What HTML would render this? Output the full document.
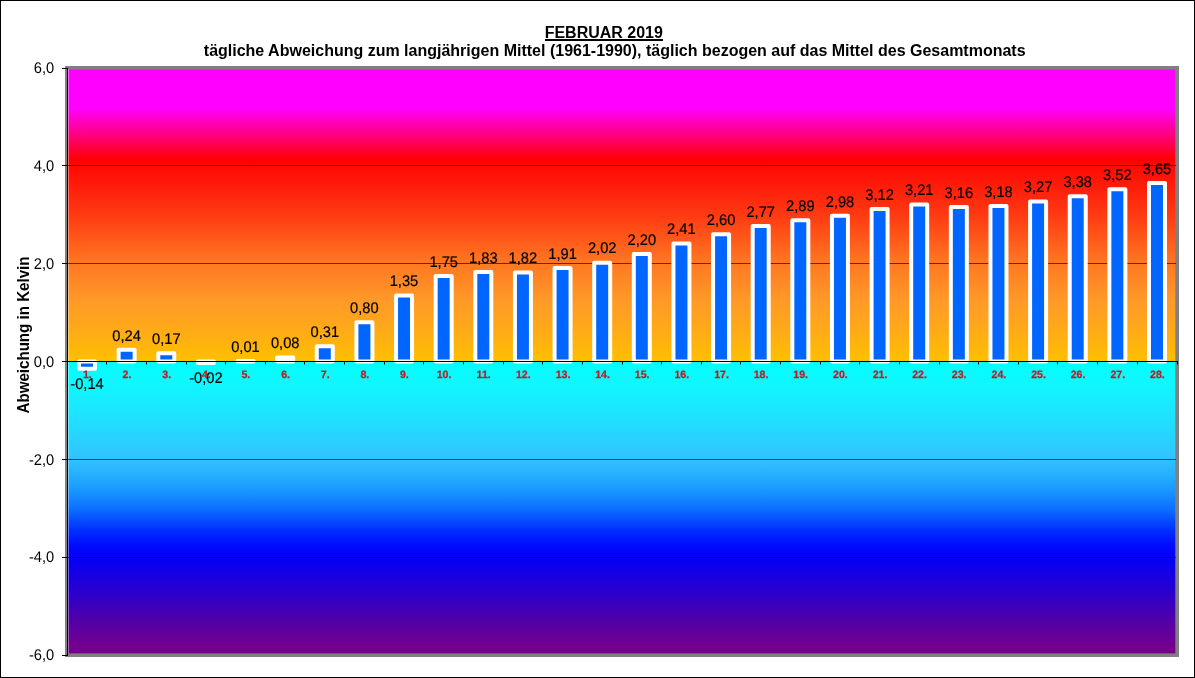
<!DOCTYPE html>
<html><head><meta charset="utf-8"><title>Februar 2019</title>
<style>
html,body{margin:0;padding:0;background:#fff;}
body{width:1195px;height:678px;overflow:hidden;}
svg{display:block;will-change:transform;}
text{font-family:"Liberation Sans",sans-serif;}
.dl{font-size:15.4px;text-rendering:geometricPrecision;fill:#000;stroke:#000;stroke-width:0.2px;text-anchor:middle;}
.yl{font-size:15.4px;text-rendering:geometricPrecision;fill:#000;text-anchor:end;}
.xl{font-size:10.6px;font-weight:bold;fill:#be1a26;stroke:#be1a26;stroke-width:0.25px;text-anchor:middle;text-rendering:geometricPrecision;}
.t{font-size:16px;font-weight:bold;fill:#000;text-anchor:middle;}
</style></head><body>
<svg width="1195" height="678" viewBox="0 0 1195 678">
<defs>
<linearGradient id="warm" gradientUnits="userSpaceOnUse" x1="0" y1="69" x2="0" y2="361.5"><stop offset="0.0000" stop-color="#ff00ff"/><stop offset="0.1333" stop-color="#ff00ff"/><stop offset="0.2256" stop-color="#ff0080"/><stop offset="0.3111" stop-color="#ff0000"/><stop offset="0.3385" stop-color="#ff0c06"/><stop offset="0.4137" stop-color="#ff200c"/><stop offset="0.4991" stop-color="#ff3a12"/><stop offset="0.5846" stop-color="#ff5a1a"/><stop offset="0.6632" stop-color="#ff7822"/><stop offset="0.7897" stop-color="#ff9928"/><stop offset="0.8923" stop-color="#ffaa18"/><stop offset="1.0000" stop-color="#ffc000"/></linearGradient>
<linearGradient id="cold" gradientUnits="userSpaceOnUse" x1="0" y1="361.5" x2="0" y2="653"><stop offset="0.0000" stop-color="#00ffff"/><stop offset="0.0806" stop-color="#10f6ff"/><stop offset="0.2007" stop-color="#20e0ff"/><stop offset="0.3208" stop-color="#30c6ff"/><stop offset="0.3551" stop-color="#2cbcff"/><stop offset="0.4065" stop-color="#22a8ff"/><stop offset="0.4408" stop-color="#1a98ff"/><stop offset="0.5094" stop-color="#0c6cff"/><stop offset="0.5780" stop-color="#0230ff"/><stop offset="0.6295" stop-color="#000cff"/><stop offset="0.6707" stop-color="#0200f8"/><stop offset="0.7839" stop-color="#2800d0"/><stop offset="0.8868" stop-color="#5000a8"/><stop offset="0.9726" stop-color="#720090"/><stop offset="1.0000" stop-color="#78008a"/></linearGradient>
</defs>
<rect x="0" y="0" width="1195" height="678" fill="#fff"/>
<rect x="0.5" y="0.5" width="1194" height="677" fill="none" stroke="#000" stroke-width="1"/>

<rect x="65" y="66" width="1114" height="591" fill="#808080"/>
<rect x="68" y="69.5" width="1107.3" height="292.00" fill="url(#warm)"/>
<rect x="68" y="361.50" width="1107.3" height="291.90" fill="url(#cold)"/>
<rect x="68" y="69" width="1" height="584" fill="#fff" fill-opacity="0.4"/>
<line x1="68" x2="1176" y1="165.5" y2="165.5" stroke="#000" stroke-opacity="0.62" stroke-width="1"/>
<line x1="68" x2="1176" y1="263.5" y2="263.5" stroke="#000" stroke-opacity="0.62" stroke-width="1"/>
<line x1="68" x2="1176" y1="459.5" y2="459.5" stroke="#000" stroke-opacity="0.62" stroke-width="1"/>
<line x1="68" x2="1176" y1="557.5" y2="557.5" stroke="#000" stroke-opacity="0.62" stroke-width="1"/>
<rect x="79.01" y="361.50" width="16.00" height="7.35" fill="#0066ff" stroke="#fff" stroke-width="4" stroke-linejoin="round"/>
<rect x="118.64" y="349.76" width="16.00" height="11.74" fill="#0066ff" stroke="#fff" stroke-width="4" stroke-linejoin="round"/>
<rect x="158.27" y="353.18" width="16.00" height="8.32" fill="#0066ff" stroke="#fff" stroke-width="4" stroke-linejoin="round"/>
<rect x="197.90" y="361.50" width="16.00" height="1.48" fill="#0066ff" stroke="#fff" stroke-width="4" stroke-linejoin="round"/>
<rect x="237.53" y="361.01" width="16.00" height="0.49" fill="#0066ff" stroke="#fff" stroke-width="4" stroke-linejoin="round"/>
<rect x="277.16" y="357.59" width="16.00" height="3.91" fill="#0066ff" stroke="#fff" stroke-width="4" stroke-linejoin="round"/>
<rect x="316.79" y="346.34" width="16.00" height="15.16" fill="#0066ff" stroke="#fff" stroke-width="4" stroke-linejoin="round"/>
<rect x="356.41" y="322.37" width="16.00" height="39.13" fill="#0066ff" stroke="#fff" stroke-width="4" stroke-linejoin="round"/>
<rect x="396.04" y="295.46" width="16.00" height="66.04" fill="#0066ff" stroke="#fff" stroke-width="4" stroke-linejoin="round"/>
<rect x="435.67" y="275.90" width="16.00" height="85.60" fill="#0066ff" stroke="#fff" stroke-width="4" stroke-linejoin="round"/>
<rect x="475.30" y="271.98" width="16.00" height="89.52" fill="#0066ff" stroke="#fff" stroke-width="4" stroke-linejoin="round"/>
<rect x="514.93" y="272.47" width="16.00" height="89.03" fill="#0066ff" stroke="#fff" stroke-width="4" stroke-linejoin="round"/>
<rect x="554.56" y="268.07" width="16.00" height="93.43" fill="#0066ff" stroke="#fff" stroke-width="4" stroke-linejoin="round"/>
<rect x="594.19" y="262.69" width="16.00" height="98.81" fill="#0066ff" stroke="#fff" stroke-width="4" stroke-linejoin="round"/>
<rect x="633.81" y="253.88" width="16.00" height="107.62" fill="#0066ff" stroke="#fff" stroke-width="4" stroke-linejoin="round"/>
<rect x="673.44" y="243.61" width="16.00" height="117.89" fill="#0066ff" stroke="#fff" stroke-width="4" stroke-linejoin="round"/>
<rect x="713.07" y="234.32" width="16.00" height="127.18" fill="#0066ff" stroke="#fff" stroke-width="4" stroke-linejoin="round"/>
<rect x="752.70" y="226.00" width="16.00" height="135.50" fill="#0066ff" stroke="#fff" stroke-width="4" stroke-linejoin="round"/>
<rect x="792.33" y="220.13" width="16.00" height="141.37" fill="#0066ff" stroke="#fff" stroke-width="4" stroke-linejoin="round"/>
<rect x="831.96" y="215.73" width="16.00" height="145.77" fill="#0066ff" stroke="#fff" stroke-width="4" stroke-linejoin="round"/>
<rect x="871.59" y="208.88" width="16.00" height="152.62" fill="#0066ff" stroke="#fff" stroke-width="4" stroke-linejoin="round"/>
<rect x="911.21" y="204.48" width="16.00" height="157.02" fill="#0066ff" stroke="#fff" stroke-width="4" stroke-linejoin="round"/>
<rect x="950.84" y="206.92" width="16.00" height="154.58" fill="#0066ff" stroke="#fff" stroke-width="4" stroke-linejoin="round"/>
<rect x="990.47" y="205.94" width="16.00" height="155.56" fill="#0066ff" stroke="#fff" stroke-width="4" stroke-linejoin="round"/>
<rect x="1030.10" y="201.54" width="16.00" height="159.96" fill="#0066ff" stroke="#fff" stroke-width="4" stroke-linejoin="round"/>
<rect x="1069.73" y="196.16" width="16.00" height="165.34" fill="#0066ff" stroke="#fff" stroke-width="4" stroke-linejoin="round"/>
<rect x="1109.36" y="189.31" width="16.00" height="172.19" fill="#0066ff" stroke="#fff" stroke-width="4" stroke-linejoin="round"/>
<rect x="1148.99" y="182.95" width="16.00" height="178.55" fill="#0066ff" stroke="#fff" stroke-width="4" stroke-linejoin="round"/>
<line x1="67.5" x2="67.5" y1="68" y2="656" stroke="#000" stroke-width="1"/>
<line x1="62" x2="68" y1="68.5" y2="68.5" stroke="#000" stroke-width="1"/>
<text class="yl" transform="translate(54.3,73) scale(0.955,1)">6,0</text>
<line x1="62" x2="68" y1="165.5" y2="165.5" stroke="#000" stroke-width="1"/>
<text class="yl" transform="translate(54.3,171) scale(0.955,1)">4,0</text>
<line x1="62" x2="68" y1="263.5" y2="263.5" stroke="#000" stroke-width="1"/>
<text class="yl" transform="translate(54.3,269) scale(0.955,1)">2,0</text>
<line x1="62" x2="68" y1="361.5" y2="361.5" stroke="#000" stroke-width="1"/>
<text class="yl" transform="translate(54.3,367) scale(0.955,1)">0,0</text>
<line x1="62" x2="68" y1="459.5" y2="459.5" stroke="#000" stroke-width="1"/>
<text class="yl" transform="translate(54.3,465) scale(0.955,1)">-2,0</text>
<line x1="62" x2="68" y1="557.5" y2="557.5" stroke="#000" stroke-width="1"/>
<text class="yl" transform="translate(54.3,562) scale(0.955,1)">-4,0</text>
<line x1="62" x2="68" y1="655.5" y2="655.5" stroke="#000" stroke-width="1"/>
<text class="yl" transform="translate(54.3,660) scale(0.955,1)">-6,0</text>
<line x1="62" x2="1178" y1="361.5" y2="361.5" stroke="#000" stroke-width="1"/>
<line x1="106.5" x2="106.5" y1="361.5" y2="364.5" stroke="#000" stroke-width="1"/>
<line x1="146.5" x2="146.5" y1="361.5" y2="364.5" stroke="#000" stroke-width="1"/>
<line x1="186.5" x2="186.5" y1="361.5" y2="364.5" stroke="#000" stroke-width="1"/>
<line x1="225.5" x2="225.5" y1="361.5" y2="364.5" stroke="#000" stroke-width="1"/>
<line x1="265.5" x2="265.5" y1="361.5" y2="364.5" stroke="#000" stroke-width="1"/>
<line x1="304.5" x2="304.5" y1="361.5" y2="364.5" stroke="#000" stroke-width="1"/>
<line x1="344.5" x2="344.5" y1="361.5" y2="364.5" stroke="#000" stroke-width="1"/>
<line x1="384.5" x2="384.5" y1="361.5" y2="364.5" stroke="#000" stroke-width="1"/>
<line x1="423.5" x2="423.5" y1="361.5" y2="364.5" stroke="#000" stroke-width="1"/>
<line x1="463.5" x2="463.5" y1="361.5" y2="364.5" stroke="#000" stroke-width="1"/>
<line x1="503.5" x2="503.5" y1="361.5" y2="364.5" stroke="#000" stroke-width="1"/>
<line x1="542.5" x2="542.5" y1="361.5" y2="364.5" stroke="#000" stroke-width="1"/>
<line x1="582.5" x2="582.5" y1="361.5" y2="364.5" stroke="#000" stroke-width="1"/>
<line x1="622.5" x2="622.5" y1="361.5" y2="364.5" stroke="#000" stroke-width="1"/>
<line x1="661.5" x2="661.5" y1="361.5" y2="364.5" stroke="#000" stroke-width="1"/>
<line x1="701.5" x2="701.5" y1="361.5" y2="364.5" stroke="#000" stroke-width="1"/>
<line x1="740.5" x2="740.5" y1="361.5" y2="364.5" stroke="#000" stroke-width="1"/>
<line x1="780.5" x2="780.5" y1="361.5" y2="364.5" stroke="#000" stroke-width="1"/>
<line x1="820.5" x2="820.5" y1="361.5" y2="364.5" stroke="#000" stroke-width="1"/>
<line x1="859.5" x2="859.5" y1="361.5" y2="364.5" stroke="#000" stroke-width="1"/>
<line x1="899.5" x2="899.5" y1="361.5" y2="364.5" stroke="#000" stroke-width="1"/>
<line x1="939.5" x2="939.5" y1="361.5" y2="364.5" stroke="#000" stroke-width="1"/>
<line x1="978.5" x2="978.5" y1="361.5" y2="364.5" stroke="#000" stroke-width="1"/>
<line x1="1018.5" x2="1018.5" y1="361.5" y2="364.5" stroke="#000" stroke-width="1"/>
<line x1="1057.5" x2="1057.5" y1="361.5" y2="364.5" stroke="#000" stroke-width="1"/>
<line x1="1097.5" x2="1097.5" y1="361.5" y2="364.5" stroke="#000" stroke-width="1"/>
<line x1="1137.5" x2="1137.5" y1="361.5" y2="364.5" stroke="#000" stroke-width="1"/>
<line x1="1177.5" x2="1177.5" y1="361.5" y2="364.5" stroke="#000" stroke-width="1"/>
<text class="dl" transform="translate(87.0,388.8) scale(0.955,1)">-0,14</text>
<text class="dl" transform="translate(126.6,340.5) scale(0.955,1)">0,24</text>
<text class="dl" transform="translate(166.3,343.9) scale(0.955,1)">0,17</text>
<text class="dl" transform="translate(205.9,383.0) scale(0.955,1)">-0,02</text>
<text class="dl" transform="translate(245.5,351.8) scale(0.955,1)">0,01</text>
<text class="dl" transform="translate(285.2,348.3) scale(0.955,1)">0,08</text>
<text class="dl" transform="translate(324.8,337.1) scale(0.955,1)">0,31</text>
<text class="dl" transform="translate(364.4,313.1) scale(0.955,1)">0,80</text>
<text class="dl" transform="translate(404.0,286.2) scale(0.955,1)">1,35</text>
<text class="dl" transform="translate(443.7,266.6) scale(0.955,1)">1,75</text>
<text class="dl" transform="translate(483.3,262.7) scale(0.955,1)">1,83</text>
<text class="dl" transform="translate(522.9,263.2) scale(0.955,1)">1,82</text>
<text class="dl" transform="translate(562.6,258.8) scale(0.955,1)">1,91</text>
<text class="dl" transform="translate(602.2,253.4) scale(0.955,1)">2,02</text>
<text class="dl" transform="translate(641.8,244.6) scale(0.955,1)">2,20</text>
<text class="dl" transform="translate(681.4,234.4) scale(0.955,1)">2,41</text>
<text class="dl" transform="translate(721.1,225.1) scale(0.955,1)">2,60</text>
<text class="dl" transform="translate(760.7,216.8) scale(0.955,1)">2,77</text>
<text class="dl" transform="translate(800.3,210.9) scale(0.955,1)">2,89</text>
<text class="dl" transform="translate(840.0,206.5) scale(0.955,1)">2,98</text>
<text class="dl" transform="translate(879.6,199.6) scale(0.955,1)">3,12</text>
<text class="dl" transform="translate(919.2,195.2) scale(0.955,1)">3,21</text>
<text class="dl" transform="translate(958.8,197.7) scale(0.955,1)">3,16</text>
<text class="dl" transform="translate(998.5,196.7) scale(0.955,1)">3,18</text>
<text class="dl" transform="translate(1038.1,192.3) scale(0.955,1)">3,27</text>
<text class="dl" transform="translate(1077.7,186.9) scale(0.955,1)">3,38</text>
<text class="dl" transform="translate(1117.4,180.1) scale(0.955,1)">3,52</text>
<text class="dl" transform="translate(1157.0,173.7) scale(0.955,1)">3,65</text>
<text class="xl" x="87.4" y="378">1.</text>
<text class="xl" x="127.0" y="378">2.</text>
<text class="xl" x="166.7" y="378">3.</text>
<text class="xl" x="206.3" y="378">4.</text>
<text class="xl" x="245.9" y="378">5.</text>
<text class="xl" x="285.6" y="378">6.</text>
<text class="xl" x="325.2" y="378">7.</text>
<text class="xl" x="364.8" y="378">8.</text>
<text class="xl" x="404.4" y="378">9.</text>
<text class="xl" x="444.1" y="378">10.</text>
<text class="xl" x="483.7" y="378">11.</text>
<text class="xl" x="523.3" y="378">12.</text>
<text class="xl" x="563.0" y="378">13.</text>
<text class="xl" x="602.6" y="378">14.</text>
<text class="xl" x="642.2" y="378">15.</text>
<text class="xl" x="681.8" y="378">16.</text>
<text class="xl" x="721.5" y="378">17.</text>
<text class="xl" x="761.1" y="378">18.</text>
<text class="xl" x="800.7" y="378">19.</text>
<text class="xl" x="840.4" y="378">20.</text>
<text class="xl" x="880.0" y="378">21.</text>
<text class="xl" x="919.6" y="378">22.</text>
<text class="xl" x="959.2" y="378">23.</text>
<text class="xl" x="998.9" y="378">24.</text>
<text class="xl" x="1038.5" y="378">25.</text>
<text class="xl" x="1078.1" y="378">26.</text>
<text class="xl" x="1117.8" y="378">27.</text>
<text class="xl" x="1157.4" y="378">28.</text>
<text class="t" x="603.8" y="38">FEBRUAR 2019</text><rect x="545" y="39" width="118" height="2" fill="#000"/>
<text class="t" x="614.7" y="55.8">tägliche Abweichung zum langjährigen Mittel (1961-1990), täglich bezogen auf das Mittel des Gesamtmonats</text>
<text transform="translate(29.4,335) rotate(-90) scale(0.945,1)" style="font-size:16px;font-weight:bold;text-anchor:middle" fill="#000">Abweichung in Kelvin</text>
</svg></body></html>
